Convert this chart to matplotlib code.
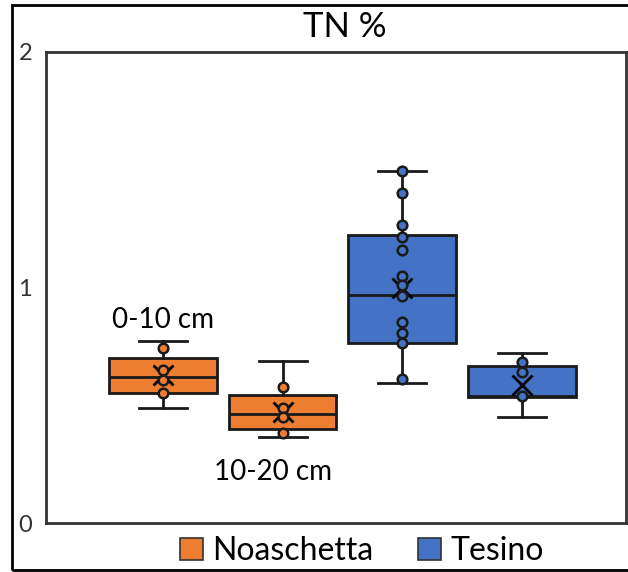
import matplotlib.pyplot as plt
from matplotlib.patches import Rectangle

plt.rcParams['font.family'] = ['Lato', 'DejaVu Sans']

# box stats: (low whisker, q1, median, q3, high whisker, mean)
groups = ['Noaschetta 0-10', 'Noaschetta 10-20', 'Tesino 0-10', 'Tesino 10-20']
whislo = [0.488, 0.365, 0.596, 0.449]
q1 = [0.552, 0.400, 0.766, 0.536]
med = [0.621, 0.464, 0.967, 0.540]
q3 = [0.702, 0.542, 1.223, 0.667]
whishi = [0.774, 0.687, 1.496, 0.723]
means = [0.628, 0.473, 0.997, 0.586]
points = [
    [0.742, 0.650, 0.607, 0.551],
    [0.576, 0.487, 0.451, 0.383],
    [1.494, 1.400, 1.264, 1.213, 1.158, 1.049, 1.011, 0.964, 0.855, 0.807, 0.763, 0.613],
    [0.685, 0.640, 0.539],
]
colors = ['#ED7D31', '#ED7D31', '#4472C4', '#4472C4']
legend_names = ['Noaschetta', 'Tesino']
depth_labels = ['0-10 cm', '10-20 cm']

fig = plt.figure(figsize=(6.28, 5.72), dpi=100)
ax = fig.add_axes([46 / 628, 1 - 523 / 572, 580 / 628, 471 / 572])

pos = [1, 2, 3, 4]
stats = []
for i in range(4):
    stats.append(dict(whislo=whislo[i], q1=q1[i], med=med[i], q3=q3[i],
                      whishi=whishi[i], mean=means[i], fliers=[]))

edge = '#1a1a1a'
bp = ax.bxp(stats, positions=pos, widths=0.9, patch_artist=True,
            showmeans=True, meanline=False,
            boxprops=dict(edgecolor=edge, linewidth=2),
            medianprops=dict(color=edge, linewidth=2),
            whiskerprops=dict(color=edge, linewidth=2),
            capprops=dict(color=edge, linewidth=2),
            meanprops=dict(marker='x', markeredgecolor='black', markersize=15,
                           markeredgewidth=2),
            capwidths=0.4)
for b, c in zip(bp['boxes'], colors):
    b.set_facecolor(c)

for i in range(4):
    ax.scatter([pos[i]] * len(points[i]), points[i], s=48, color=colors[i],
               edgecolor=edge, linewidth=1.8, zorder=4)

ax.set_xlim(0.025, 4.867)
ax.set_ylim(0, 2)
ax.set_yticks([0, 1, 2])
ax.set_xticks([])
ax.tick_params(axis='y', length=0, pad=10, labelsize=17, labelcolor='#333333')
for s in ax.spines.values():
    s.set_color('#333333')
    s.set_linewidth(2)

ax.text(1, 0.86, depth_labels[0], ha='center', va='center', fontsize=20)
ax.text(1.92, 0.215, depth_labels[1], ha='center', va='center', fontsize=20)

fig.text(345 / 628, 1 - 27 / 572, 'TN %', ha='center', va='center', fontsize=25)

# legend
handles = [Rectangle((0, 0), 1, 1, facecolor=colors[0], edgecolor='#333333', linewidth=1.2),
           Rectangle((0, 0), 1, 1, facecolor=colors[2], edgecolor='#333333', linewidth=1.2)]
fig.legend(handles, legend_names, loc='center', bbox_to_anchor=(362 / 628, 1 - 551 / 572),
           ncol=2, frameon=False, fontsize=23, handlelength=0.7, handleheight=0.7,
           handletextpad=0.3, columnspacing=1.4)

# outer frame around the whole chart
fig.patches.append(Rectangle((12 / 628, 1 - 570 / 572), 1.0, 565 / 572,
                             transform=fig.transFigure, fill=False,
                             edgecolor='black', linewidth=2))

fig.savefig('out.png', dpi=100)
